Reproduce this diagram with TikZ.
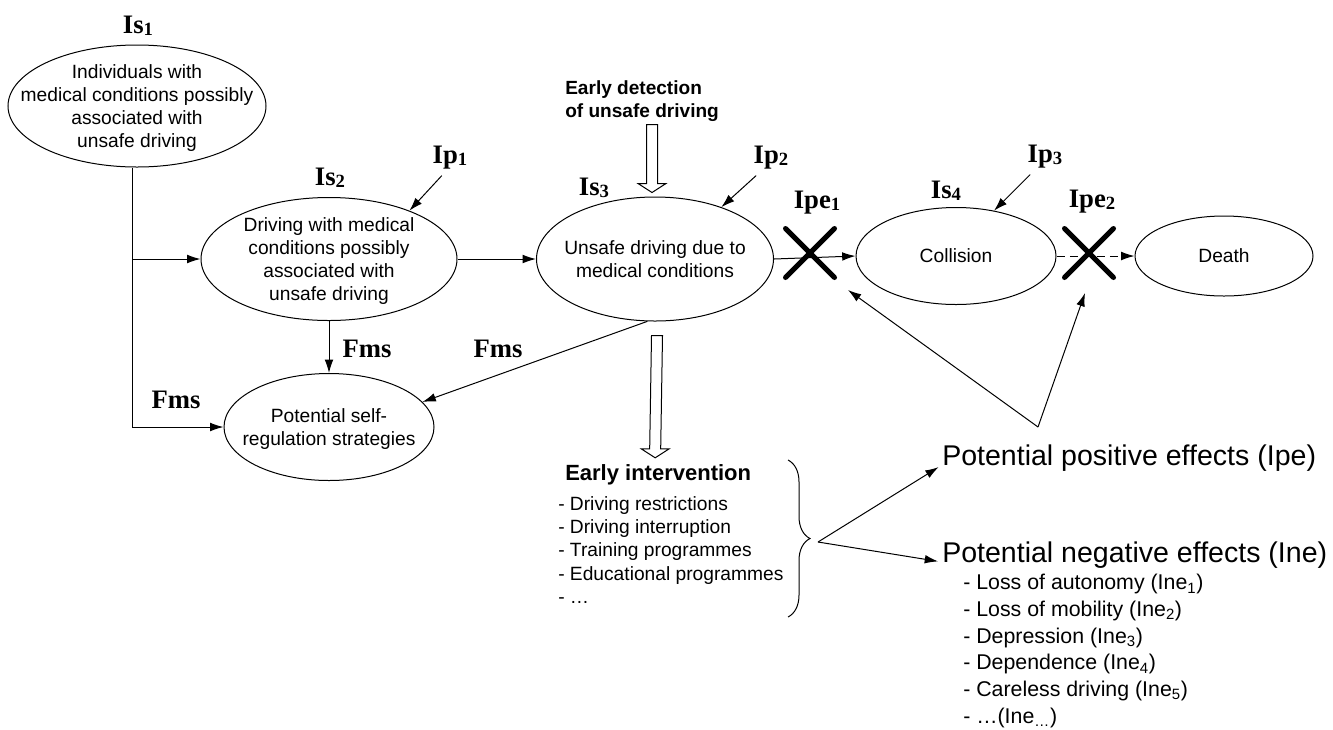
\documentclass[tikz,border=0pt]{standalone}
\usepackage{fontspec}
\setmainfont{Liberation Sans}
\newfontfamily\labfont{Liberation Serif}
\usetikzlibrary{arrows.meta,calc,shapes.geometric,shapes.misc,decorations.pathreplacing}
\tikzset{
  >={Latex[length=10pt,width=6.5pt]},
  state/.style={draw,ellipse,inner sep=0pt,line width=.75pt,
    font=\fontsize{14.4}{17.25}\selectfont},
  tag/.style={anchor=base,inner sep=0pt,
    font=\labfont\fontsize{20}{24}\selectfont\bfseries},
  xmark/.style={cross out,draw,line width=3.75pt,line cap=round,
    minimum size=33pt,inner sep=0pt},
  hollow/.style={draw,line width=.75pt,fill=white},
  flow/.style={->,line width=.75pt},
  txt/.style={inner sep=0pt,align=left},
}
\newcommand\etext[1]{\makebox[0pt]{\raisebox{-.37em}[0pt][0pt]{%
  \begin{tabular}{@{}c@{}}#1\end{tabular}}}}
\newcommand\labsub[1]{\raisebox{-2.2pt}{\fontsize{14}{14}\selectfont#1}}
% hollow arrow pointing down: shaft top #1, tip #2
\newcommand\hollowdown[2]{%
  \draw[hollow] ($(#1)+(-5.5,0)$) -- ($(#2)+(-5.5,-9)$) -- ($(#2)+(-14,-9)$)
    -- (#2) -- ($(#2)+(14,-9)$) -- ($(#2)+(5.5,-9)$) -- ($(#1)+(5.5,0)$) -- cycle;}

\begin{document}
\begin{tikzpicture}[x=.75pt,y=-.75pt]
  \useasboundingbox (0,0) rectangle (1333,729);
  % states
  \node[state,minimum width=193.5pt,minimum height=91.5pt] (E1) at (137,106)
    {\etext{Individuals with\\medical conditions possibly\\associated with\\unsafe driving}};
  \node[state,minimum width=192pt,minimum height=92.25pt] (E2) at (329,259)
    {\etext{Driving with medical\\conditions possibly\\associated with\\unsafe driving}};
  \node[state,minimum width=177.75pt,minimum height=93pt] (E3) at (655,259)
    {\etext{Unsafe driving due to\\medical conditions}};
  \node[state,minimum width=150pt,minimum height=72.75pt] (E4) at (956,256)
    {\etext{Collision}};
  \node[state,minimum width=133.5pt,minimum height=60pt] (death) at (1224,256)
    {\etext{Death}};
  \node[state,minimum width=157.5pt,minimum height=80.25pt] (SR) at (329,427)
    {\etext{Potential self-\\regulation strategies}};

  % labels
  \node[tag] (is1) at (138,33) {Is\labsub{1}};
  \node[tag] (is2) at (330,185) {Is\labsub{2}};
  \node[tag] (is3) at (594,195) {Is\labsub{3}};
  \node[tag] (is4) at (946,198) {Is\labsub{4}};
  \node[tag] (ip1) at (450,163) {Ip\labsub{1}};
  \node[tag] (ip2) at (771,163) {Ip\labsub{2}};
  \node[tag] (ip3) at (1045,162) {Ip\labsub{3}};
  \node[tag] (ipe1) at (817,208) {Ipe\labsub{1}};
  \node[tag] (ipe2) at (1092,207) {Ipe\labsub{2}};
  \node[tag] (fms1) at (176,408) {Fms};
  \node[tag] (fms2) at (367,357) {Fms};
  \node[tag] (fms3) at (498,357) {Fms};

  % flows
  \coordinate (trunk) at ([xshift=-3.75pt]E1.south);
  \draw[flow] (trunk) |- (SR.west);
  \draw[flow] (trunk |- E2.west) -- (E2.west);
  \draw[flow] (E2.south) -- (SR.north);
  \draw[flow] (E3.263) -- (SR.15);
  \draw[flow] (E2.east) -- (E3.west);
  \draw[flow] (E3.east) -- (E4.west);
  \draw[flow,dash pattern=on 6pt off 4pt] (E4.east) -- (death.west);
  \draw[flow] ([xshift=7pt,yshift=-5pt]ip1.south west) -- (E2.31);
  \draw[flow] ([xshift=2pt,yshift=-5pt]ip2.south west) -- (E3.38);
  \draw[flow] ([xshift=2pt,yshift=-5pt]ip3.south west) -- (E4.50);

  % interruptions
  \node[xmark] (x1) at (810,253) {};
  \node[xmark] (x2) at (1089,253) {};

  % detection and intervention
  \node[txt,anchor=west,font=\bfseries\fontsize{14.3}{17.25}\selectfont] (det)
    at (565,101) {Early detection\\of unsafe driving};
  \coordinate (d1) at ($(E3.north)+(-3,-72)$);
  \coordinate (d2) at ($(E3.north)+(-3,-4)$);
  \hollowdown{d1}{d2}
  \node[txt,anchor=base west,font=\bfseries\fontsize{16.5}{20}\selectfont] (eint)
    at (565,480) {Early intervention};
  \node[txt,anchor=west,font=\fontsize{14.4}{17.5}\selectfont] (elist) at (558,550)
    {- Driving restrictions\\- Driving interruption\\- Training programmes\\%
     - Educational programmes\\- …};
  \coordinate (i1) at ($(E3.south)+(2,14)$);
  \coordinate (i2) at ($(eint.north)+(-3,-6)$);
  \hollowdown{i1}{i2}

  % effects
  \draw[decorate,decoration={brace,amplitude=16.5pt},line width=.75pt]
    (788,460) -- (788,617);
  \coordinate (bt) at (818,542);
  \node[txt,anchor=base west,font=\fontsize{21.4}{26}\selectfont] (pos)
    at (942,465) {Potential positive effects (Ipe)};
  \node[txt,anchor=base west,font=\fontsize{21.4}{26}\selectfont] (neg)
    at (942,562) {Potential negative effects (Ine)};
  \node[txt,anchor=west,font=\fontsize{16}{20}\selectfont] (nlist) at (963,651)
    {- Loss of autonomy (Ine\textsubscript{1})\\- Loss of mobility (Ine\textsubscript{2})\\%
     - Depression (Ine\textsubscript{3})\\- Dependence (Ine\textsubscript{4})\\%
     - Careless driving (Ine\textsubscript{5})\\- …(Ine\textsubscript{…})};
  \draw[flow,shorten >=3pt] (bt) -- (pos.base west);
  \draw[flow,shorten >=3pt] (bt) -- (neg.base west);
  \coordinate (ipetop) at (1038,427);
  \coordinate (x1foot) at ($(x1)+(38,37)$);
  \coordinate (x2foot) at ($(x2)+(-4,40)$);
  \draw[flow] (ipetop) -- (x1foot);
  \draw[flow] (ipetop) -- (x2foot);
\end{tikzpicture}
\end{document}
